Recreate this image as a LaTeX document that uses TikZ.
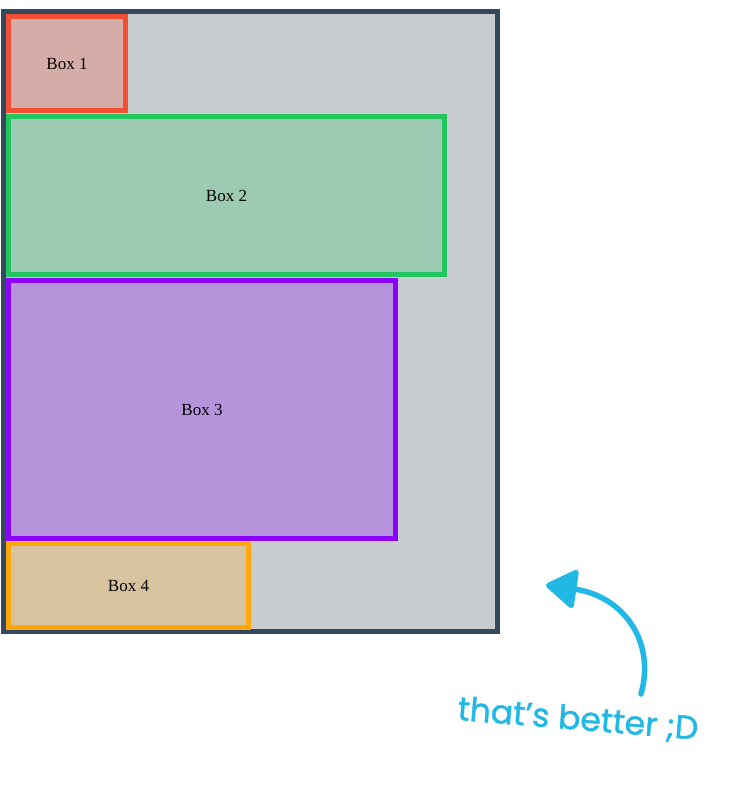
\documentclass[tikz,border=0pt]{standalone}
\usepackage{fontspec}
\setmainfont{Liberation Serif}
\newfontfamily\handfont[FakeBold=1.2]{Poppins}
\usetikzlibrary{arrows.meta}
\definecolor{frameC}{HTML}{34495E}
\definecolor{frameF}{HTML}{C8CCCF}
\definecolor{redC}{HTML}{F24F35}
\definecolor{redF}{HTML}{D6ACA8}
\definecolor{greenC}{HTML}{22C55E}
\definecolor{greenF}{HTML}{9CCAB2}
\definecolor{purpC}{HTML}{8A00FA}
\definecolor{purpF}{HTML}{B594DC}
\definecolor{orgC}{HTML}{FFA70A}
\definecolor{orgF}{HTML}{D8C39F}
\definecolor{inkC}{HTML}{22B8E6}
\tikzset{
  boxnode/.style={rectangle, inner sep=0pt, outer sep=0pt, line width=5pt,
    font=\fontsize{17}{20}\selectfont, text=black},
  handnote/.style={font=\handfont\fontsize{33}{38}\selectfont, text=inkC, inner sep=0pt},
  chalkarrow/.style={draw=inkC, line width=5.5pt, line cap=round,
    -{Triangle[length=33pt,width=42pt,round]}}
}
\begin{document}
\begin{tikzpicture}[x=1pt,y=-1pt]
\useasboundingbox (0,0) rectangle (752,802);
\fill[white] (0,0) rectangle (752,802);
\node[boxnode, draw=frameC, fill=frameF, minimum width=494pt, minimum height=620pt] (frame) at (250.5,321.5) {};
\node[boxnode, draw=redC, fill=redF, minimum width=117pt, minimum height=94pt] (b1) at (67,63.5) {Box 1};
\node[boxnode, draw=greenC, fill=greenF, minimum width=436pt, minimum height=158pt] (b2) at (226.5,195.5) {Box 2};
\node[boxnode, draw=purpC, fill=purpF, minimum width=387pt, minimum height=258pt] (b3) at (202,409.5) {Box 3};
\node[boxnode, draw=orgC, fill=orgF, minimum width=240pt, minimum height=84pt] (b4) at (128.5,585.5) {Box 4};
\node[handnote, rotate=-4.7] (note) at (578,720) {that’s better ;D};
\coordinate (arrstart) at (641,694);
\coordinate (arrtip) at (546,585);
\draw[chalkarrow] (arrstart) .. controls (656,640) and (622,596) .. (arrtip);
\end{tikzpicture}
\end{document}
